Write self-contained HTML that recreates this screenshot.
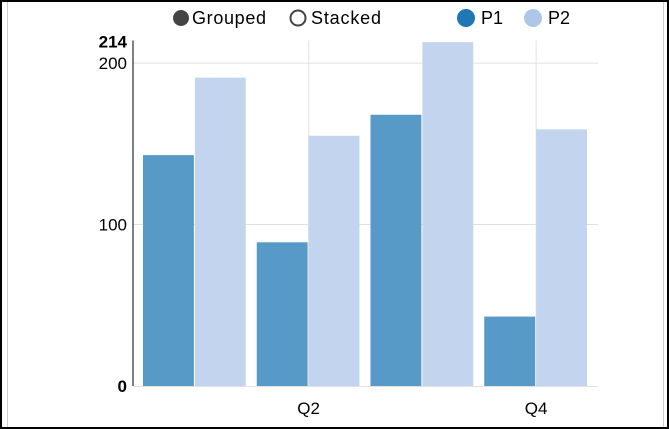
<!DOCTYPE html>
<html><head><meta charset="utf-8"><style>
html,body{margin:0;padding:0;background:#fff}
#frame{position:absolute;left:0;top:0;width:665px;height:425px;border:2px solid #000;background:#fff}
#inner{position:absolute;left:5px;top:0;width:655px;height:425px;border-left:1px solid #ccc;border-right:1px solid #ccc}
svg{position:absolute;left:0;top:0}
text{font-family:"Liberation Sans",sans-serif}
</style></head><body>
<div id="frame"><div id="inner"></div></div>
<svg id="chart" width="669" height="429"></svg>
<script>
const categories=["Q1","Q2","Q3","Q4"];
const p1Values=[143,89,168,43];
const p2Values=[191,155,213,159];
const yTicks=[0,100,200];
const xTickLabels=["","Q2","","Q4"];
const yMax=214;
const NS="http://www.w3.org/2000/svg";
const svg=document.getElementById("chart");
const x0=133,x1=598,yTop=40.5,yBot=386;
const y=v=>yBot-(v/yMax)*(yBot-yTop);
const step=(x1-x0-10)/categories.length;
const bandX=i=>x0+10+i*step;
function mk(t,a){const e=document.createElementNS(NS,t);for(const k in a)e.setAttribute(k,a[k]);svg.appendChild(e);return e;}
yTicks.forEach(v=>{if(v>0){const g=mk("line",{x1:x0,x2:x1,y1:y(v),y2:y(v),stroke:"#e0e0e0"});

}
const t=mk("text",{x:x0-6,y:y(v)+6,"text-anchor":"end","font-size":"17",fill:"#000"});t.textContent=v;
if(v===0)t.setAttribute("font-weight","bold");

});
categories.forEach((c,i)=>{const cx=bandX(i)+step/2-5;
if(xTickLabels[i]){const g=mk("line",{x1:cx,x2:cx,y1:yTop,y2:yBot,stroke:"#e0e0e0"});


const t=mk("text",{x:cx,y:414,"text-anchor":"middle","font-size":"17",fill:"#000"});t.textContent=xTickLabels[i];

}});
const mt=mk("text",{x:x0-6,y:yTop+7,"text-anchor":"end","font-size":"17","font-weight":"bold",fill:"#000"});mt.textContent=yMax;


const bw=(step-12)/2;
categories.forEach((c,i)=>{const bx=bandX(i);
const a=mk("rect",{x:bx,y:y(p1Values[i]),width:bw,height:yBot-y(p1Values[i]),fill:"#5799c7"});


const b=mk("rect",{x:bx+bw+1,y:y(p2Values[i]),width:bw,height:yBot-y(p2Values[i]),fill:"#c3d5ee"});

});
const ax=mk("line",{x1:x0,x2:x0,y1:yTop,y2:yBot,stroke:"#000"});


const bl=mk("line",{x1:x0,x2:x1,y1:yBot+0.5,y2:yBot+0.5,stroke:"#e0e0e0"});


function leg(cx,tx,r,label,fill,stroke,name){const c=mk("circle",{cx:cx,cy:18,r:r,fill:fill,stroke:stroke||"none","stroke-width":stroke?2:0});


const t=mk("text",{x:tx,y:24,"font-size":"18",fill:"#000",textLength:label.length>2?(label==="Grouped"?74:70):0});
if(label.length<=2)t.removeAttribute("textLength");
t.textContent=label;

}
leg(181,192,8,"Grouped","#444",null,"grouped-option");
leg(298,311,7.5,"Stacked","#fff","#444","stacked-option");
leg(466,481,9,"P1","#1f77b4",null,"legend-p1");
leg(533,548,9,"P2","#aec7e8",null,"legend-p2");
</script>
</body></html>
